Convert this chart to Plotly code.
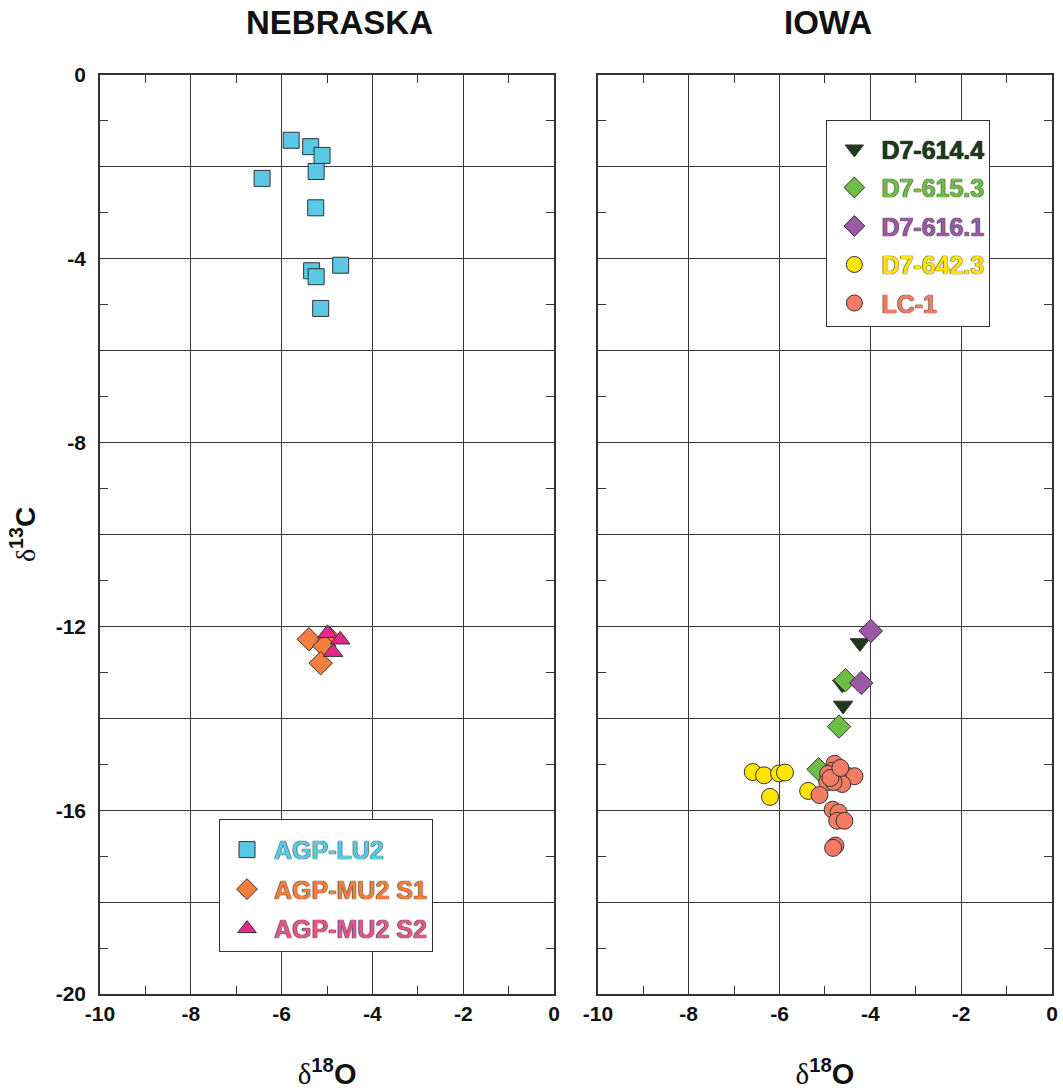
import plotly.graph_objects as go

# ---------------- data ----------------
lu2_x = [-5.79, -5.36, -5.11, -5.24, -6.43, -5.25, -4.70, -5.34, -5.24, -5.14]
lu2_y = [-1.42, -1.56, -1.75, -2.10, -2.25, -2.89, -4.14, -4.26, -4.39, -5.08]

mu2s1_x = [-5.40, -4.95, -5.06, -5.14]
mu2s1_y = [-12.28, -12.25, -12.43, -12.80]

mu2s2_x = [-4.99, -4.71, -4.87]
mu2s2_y = [-12.15, -12.29, -12.56]

d6144_x = [-4.23, -4.57, -4.62, -4.60]
d6144_y = [-12.36, -13.23, -13.26, -13.72]

d6153_x = [-4.55, -4.69, -5.14]
d6153_y = [-13.17, -14.18, -15.11]

d6161_x = [-3.99, -4.20]
d6161_y = [-12.10, -13.23]

d6423_x = [-6.59, -6.34, -6.01, -5.88, -6.21, -5.37]
d6423_y = [-15.17, -15.24, -15.20, -15.18, -15.71, -15.58]

lc1_x = [-4.79, -4.83, -4.73, -4.93, -4.51, -4.35, -4.95, -4.62, -4.81, -5.12,
         -4.83, -4.70, -4.73, -4.57, -4.77, -4.82, -4.88, -4.66]
lc1_y = [-14.99, -15.14, -15.21, -15.21, -15.25, -15.26, -15.39, -15.43, -15.39, -15.67,
         -15.99, -16.05, -16.23, -16.23, -16.77, -16.82, -15.30, -15.08]

x_ticks = [-10, -8, -6, -4, -2, 0]
y_ticks = [0, -2, -4, -6, -8, -10, -12, -14, -16, -18, -20]
y_labels = ["0", "", "-4", "", "-8", "", "-12", "", "-16", "", "-20"]

# ---------------- styles ----------------
FONT = "Liberation Sans, Arial, Helvetica, sans-serif"
SERIF = "Liberation Serif, Times New Roman, serif"
OUT = dict(color="#333333", width=1)

fig = go.Figure()


def add(x, y, name, color, symbol, size, xa, ya, legend, textcolor=None):
    tc = textcolor or color
    fig.add_trace(go.Scatter(
        x=x, y=y, mode="markers", xaxis=xa, yaxis=ya,
        name=f"<span style='color:{tc}'>{name}</span>",
        legend=legend, legendgroup=name,
        marker=dict(color=color, symbol=symbol, size=size, line=OUT),
    ))


add(lu2_x, lu2_y, "AGP-LU2", "#5BC8E6", "square", 16, "x", "y", "legend")
add(mu2s1_x, mu2s1_y, "AGP-MU2 S1", "#F47E3E", "diamond", 18, "x", "y", "legend")
add(mu2s2_x, mu2s2_y, "AGP-MU2 S2", "#E8278C", "triangle-up", 17, "x", "y", "legend",
    textcolor="#E2568C")

add(d6144_x, d6144_y, "D7-614.4", "#1D3B1B", "triangle-down", 17, "x2", "y2", "legend2")
add(d6153_x, d6153_y, "D7-615.3", "#6DBE45", "diamond", 18, "x2", "y2", "legend2")
add(d6161_x, d6161_y, "D7-616.1", "#9B59A6", "diamond", 18, "x2", "y2", "legend2")
add(d6423_x, d6423_y, "D7-642.3", "#FFE500", "circle", 17, "x2", "y2", "legend2")
add(lc1_x, lc1_y, "LC-1", "#F47B66", "circle", 17, "x2", "y2", "legend2")

axis_common = dict(
    showline=True, linecolor="#333333", linewidth=1.5, mirror="ticks",
    showgrid=True, gridcolor="#3a3a3a", gridwidth=1, zeroline=False,
    ticks="inside", ticklen=8, tickcolor="#333333",
    tickfont=dict(family=FONT, size=21, color="#111111", weight="bold"),
)

xtitle = dict(
    text=f"<span style='font-family:{SERIF};font-weight:normal'>δ</span><sup>18</sup>O",
    font=dict(family=FONT, size=29, color="#111111", weight="bold"),
    standoff=40,
)
ytitle = dict(
    text=f"<span style='font-family:{SERIF};font-weight:normal'>δ</span><sup>13</sup>C",
    font=dict(family=FONT, size=28, color="#111111", weight="bold"),
    standoff=12,
)

xaxis_cfg = dict(
    axis_common, range=[-10, 0], tickvals=x_ticks, ticktext=[str(v) for v in x_ticks],
    minor=dict(dtick=1, tick0=0, ticks="inside", ticklen=8, tickcolor="#333333", showgrid=False),
    ticklabelstandoff=0, title=xtitle,
)

yaxis_cfg = dict(
    axis_common, range=[-20, 0], tickvals=y_ticks, ticktext=y_labels,
    minor=dict(dtick=1, tick0=0, ticks="inside", ticklen=8, tickcolor="#333333", showgrid=False),
    ticklabelstandoff=8,
)

legend_font = dict(family=FONT, size=25, weight="bold",
                   shadow="0px 0px 1px #222222, 0px 0px 1px #222222")

fig.update_layout(
    width=1063, height=1090,
    margin=dict(l=100, r=5, t=75, b=95),
    paper_bgcolor="white", plot_bgcolor="white",
    font=dict(family=FONT, color="#111111"),
    xaxis=dict(xaxis_cfg, domain=[0, 0.477], anchor="y"),
    yaxis=dict(yaxis_cfg, domain=[0, 1], anchor="x", title=ytitle),
    xaxis2=dict(xaxis_cfg, domain=[0.523, 1], anchor="y2"),
    yaxis2=dict(yaxis_cfg, domain=[0, 1], anchor="x2", showticklabels=False),
    legend=dict(
        x=0.125, y=0.19, xanchor="left", yanchor="top",
        bgcolor="white", bordercolor="#333333", borderwidth=1,
        font=legend_font, tracegroupgap=4, itemsizing="trace", itemwidth=44,
        title=dict(text=" ", font=dict(size=5)),
    ),
    legend2=dict(
        x=0.763, y=0.951, xanchor="left", yanchor="top",
        bgcolor="white", bordercolor="#333333", borderwidth=1,
        font=legend_font, tracegroupgap=3, itemsizing="trace", itemwidth=44,
        title=dict(text=" ", font=dict(size=4)),
    ),
    showlegend=True,
    annotations=[
        dict(text="NEBRASKA", x=0.2516, y=1.0, xref="paper", yref="paper",
             xanchor="center", yanchor="bottom", yshift=32, showarrow=False,
             font=dict(family=FONT, size=33, color="#111111", weight="bold")),
        dict(text="IOWA", x=0.765, y=1.0, xref="paper", yref="paper",
             xanchor="center", yanchor="bottom", yshift=32, showarrow=False,
             font=dict(family=FONT, size=33, color="#111111", weight="bold")),
    ],
)

fig.write_html(
    "out.html",
    config={"displayModeBar": False},
    post_script=("document.body.style.margin='0px';"
                 "document.documentElement.style.overflow='hidden';"
                 "document.body.style.overflow='hidden';"),
)
